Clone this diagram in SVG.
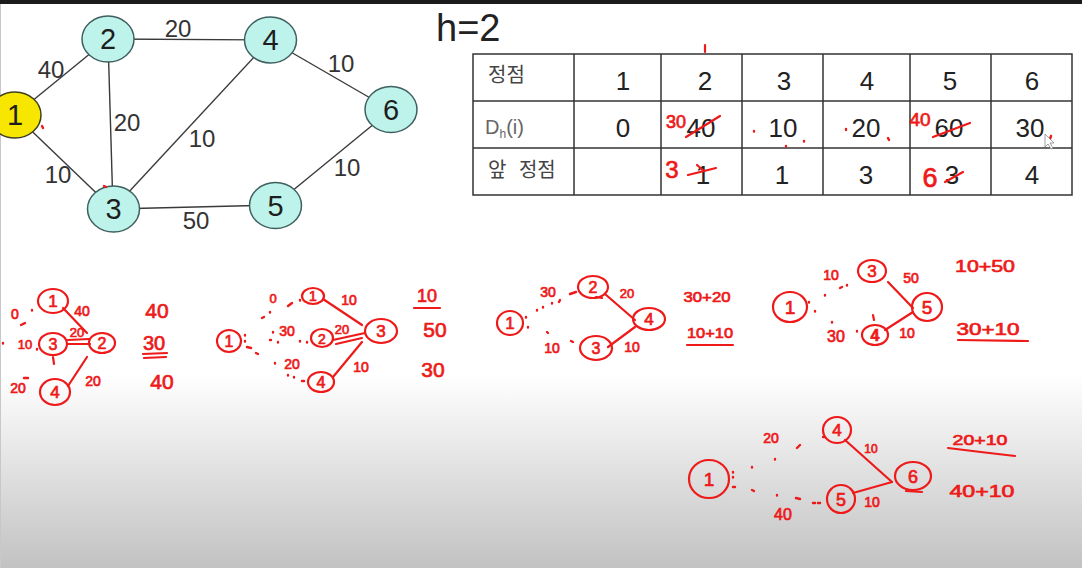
<svg xmlns="http://www.w3.org/2000/svg" width="1082" height="568" viewBox="0 0 1082 568">
<defs>
<linearGradient id="bg" x1="0" y1="0" x2="0" y2="1">
<stop offset="0" stop-color="#ffffff"/>
<stop offset="0.66" stop-color="#ffffff"/>
<stop offset="0.76" stop-color="#ededed"/>
<stop offset="1" stop-color="#c2c2c2"/>
</linearGradient>
<style>
.edge{stroke:#3a3a3a;stroke-width:1.4;fill:none}
.node{fill:#bdf3ea;stroke:#3f5f5f;stroke-width:1.5}
.start{fill:#f7e600;stroke:#3f3f20;stroke-width:1.5}
.nl{font-family:"Liberation Sans",Arial,sans-serif;font-size:29px;fill:#1e1e1e;text-anchor:middle}
.el{font-family:"Liberation Sans",Arial,sans-serif;font-size:24px;fill:#333;text-anchor:middle}
.grid{stroke:#333;stroke-width:1.5;fill:#fff}
.gl{stroke:#333;stroke-width:1.5}
.tc{font-family:"Liberation Sans",Arial,sans-serif;font-size:26px;fill:#222;text-anchor:middle}
.kr{font-family:"Noto Sans CJK KR","Liberation Sans",sans-serif;font-size:20px;fill:#444}
.red{stroke:#ee1a1a;stroke-width:2.2;fill:none;stroke-linecap:round}
.dot{stroke:#ee1a1a;stroke-width:2.4;fill:none;stroke-linecap:round}
.hw{font-family:"Liberation Sans",Arial,sans-serif;fill:#ee1a1a;stroke:#ee1a1a;stroke-width:0.7;text-anchor:middle}
</style>
</defs>
<rect x="0" y="0" width="1082" height="568" fill="url(#bg)"/>
<rect x="0" y="0" width="1082" height="4" fill="#1b1b1b"/>
<line x1="0.5" y1="4" x2="0.5" y2="568" stroke="#c8c8c8" stroke-width="1"/>

<g id="connectors">
<line class="edge" x1="15" y1="115" x2="108" y2="39"/>
<line class="edge" x1="15" y1="115" x2="113" y2="209"/>
<line class="edge" x1="108" y1="39" x2="113" y2="209"/>
<line class="edge" x1="108" y1="39" x2="270" y2="40"/>
<line class="edge" x1="113" y1="209" x2="270" y2="40"/>
<line class="edge" x1="270" y1="40" x2="391" y2="110"/>
<line class="edge" x1="113" y1="209" x2="275" y2="205"/>
<line class="edge" x1="275" y1="205" x2="391" y2="110"/>
<text class="el" x="51" y="78">40</text>
<text class="el" x="178" y="37">20</text>
<text class="el" x="341" y="72">10</text>
<text class="el" x="127" y="131">20</text>
<text class="el" x="202" y="147">10</text>
<text class="el" x="58" y="183">10</text>
<text class="el" x="196" y="229">50</text>
<text class="el" x="347" y="176">10</text>
</g>

<g id="node1"><ellipse class="start" cx="15" cy="115" rx="26" ry="23"/><text class="nl" x="15" y="125">1</text></g>
<g id="node2"><ellipse class="node" cx="108" cy="39" rx="26" ry="23"/><text class="nl" x="108" y="49">2</text></g>
<g id="node3"><ellipse class="node" cx="113.5" cy="209" rx="26" ry="23"/><text class="nl" x="113.5" y="219">3</text></g>
<g id="node4"><ellipse class="node" cx="270.5" cy="40" rx="26" ry="23"/><text class="nl" x="270.5" y="50">4</text></g>
<g id="node5"><ellipse class="node" cx="275.5" cy="205.5" rx="26" ry="23"/><text class="nl" x="275.5" y="215.5">5</text></g>
<g id="node6"><ellipse class="node" cx="391" cy="109.5" rx="26" ry="23"/><text class="nl" x="391" y="119.5">6</text></g>
<g id="graph-marks">
<path class="dot" d="M42 126 l1 2"/>
<path class="dot" d="M104 186 l2 1"/>
</g>

<g id="title"><text x="436" y="41" font-family="Liberation Sans,Arial,sans-serif" font-size="38" fill="#222">h=2</text></g>

<g id="table">
<rect class="grid" x="473" y="54" width="599" height="141"/>
<line class="gl" x1="473" y1="101" x2="1072" y2="101"/>
<line class="gl" x1="473" y1="148" x2="1072" y2="148"/>
<line class="gl" x1="574" y1="54" x2="574" y2="195"/>
<line class="gl" x1="661" y1="54" x2="661" y2="195"/>
<line class="gl" x1="742" y1="54" x2="742" y2="195"/>
<line class="gl" x1="823" y1="54" x2="823" y2="195"/>
<line class="gl" x1="910" y1="54" x2="910" y2="195"/>
<line class="gl" x1="991" y1="54" x2="991" y2="195"/>
<text class="kr" x="488" y="82">정점</text>
<text class="kr" x="488" y="177" word-spacing="8">앞 정점</text>
<text x="485" y="134" font-family="Liberation Sans,Arial,sans-serif" font-size="20" fill="#666">D<tspan font-size="12" dy="4">h</tspan><tspan dy="-4">(i)</tspan></text>
<text class="tc" x="623" y="90">1</text>
<text class="tc" x="705" y="90">2</text>
<text class="tc" x="784" y="90">3</text>
<text class="tc" x="867" y="90">4</text>
<text class="tc" x="950" y="90">5</text>
<text class="tc" x="1032" y="90">6</text>
<text class="tc" x="623" y="137">0</text>
<text class="tc" x="701" y="137">40</text>
<text class="tc" x="783" y="137">10</text>
<text class="tc" x="866" y="137">20</text>
<text class="tc" x="949" y="137">60</text>
<text class="tc" x="1030" y="137">30</text>
<text class="tc" x="703" y="184">1</text>
<text class="tc" x="782" y="184">1</text>
<text class="tc" x="866" y="184">3</text>
<text class="tc" x="952" y="184">3</text>
<text class="tc" x="1032" y="184">4</text>
</g>

<g id="table-marks">
<path class="red" d="M705 45 L705 52"/>
<text class="hw" x="676" y="128" font-size="18">30</text>
<path class="red" d="M686 137 L720 116"/>
<text class="hw" x="672" y="178" font-size="24">3</text>
<path class="red" d="M688 175 L716 168 M697 165 L704 171"/>
<text class="hw" x="920" y="126" font-size="19">40</text>
<path class="red" d="M933 137 L970 123"/>
<text class="hw" x="930" y="187" font-size="27">6</text>
<path class="red" d="M945 182 L963 172"/>
<path class="dot" d="M754 131 l0 0.5 M786 146 l0 0.5 M804 141 l0 0.5 M846 129 l0 1 M888 138 l1 2 M1051 136 l-1 3"/>
<path d="M1045 134 l0 13 l3 -3 l3 5 l2 -1 l-3 -5 l4 0 z" fill="#fff" stroke="#888" stroke-width="0.8"/>
</g>

<g id="sketch-h1-a">
<ellipse class="red" cx="53" cy="301" rx="15" ry="12"/><text class="hw" x="53" y="307" font-size="17">1</text>
<text class="hw" x="82" y="316" font-size="14">40</text>
<text class="hw" x="15" y="319" font-size="14">0</text>
<path class="dot" d="M32 310 l0 0.5 M21 325 l4 -2"/>
<path class="red" d="M63 308 L87 333"/>
<ellipse class="red" cx="53" cy="344" rx="14" ry="11"/><text class="hw" x="53" y="350" font-size="16">3</text>
<text class="hw" x="25" y="349" font-size="13">10</text>
<path class="dot" d="M37 349 l0 0.5 M3 343 l0 0.5"/>
<text class="hw" x="77" y="337" font-size="13">20</text>
<path class="red" d="M68 340 L89 339 M68 344 L90 344"/>
<ellipse class="red" cx="102" cy="343" rx="13" ry="10"/><text class="hw" x="102" y="349" font-size="16">2</text>
<path class="red" d="M53 357 L54 364"/>
<ellipse class="red" cx="55" cy="392" rx="15" ry="13"/><text class="hw" x="55" y="398" font-size="17">4</text>
<text class="hw" x="18" y="393" font-size="14">20</text>
<path class="dot" d="M24 378 l4 0"/>
<text class="hw" x="93" y="386" font-size="14">20</text>
<path class="red" d="M68 386 L87 357"/>
<text class="hw" x="157" y="318" font-size="21">40</text>
<text class="hw" x="154" y="350" font-size="20">30</text>
<path class="red" d="M143 354 L167 353 M144 358 L166 357"/>
<text class="hw" x="162" y="389" font-size="21">40</text>
</g>

<g id="sketch-h1-b">
<ellipse class="red" cx="229" cy="341" rx="12" ry="11"/><text class="hw" x="229" y="347" font-size="16">1</text>
<path class="dot" d="M245 335 l0 0.5 M245 341 l0 0.5 M247 347 l4 1 M256 353 l2 1 M262 318 l2 -1 M270 312 l0 0.5 M273 332 l0 0.5"/>
<ellipse class="red" cx="313" cy="296" rx="11" ry="8"/><text class="hw" x="313" y="301" font-size="14">1</text>
<text class="hw" x="273" y="303" font-size="13">0</text>
<path class="dot" d="M288 306 l4 -3 M300 300 l0 0.5"/>
<text class="hw" x="349" y="305" font-size="14">10</text>
<path class="red" d="M323 299 L362 325"/>
<ellipse class="red" cx="381" cy="331" rx="16" ry="12"/><text class="hw" x="381" y="337" font-size="17">3</text>
<text class="hw" x="287" y="336" font-size="14">30</text>
<path class="dot" d="M270 340 l1 0 M278 342 l0 0.5 M300 341 l0 0.5 M307 342 l0 0.5"/>
<ellipse class="red" cx="322" cy="338" rx="11" ry="9"/><text class="hw" x="322" y="344" font-size="14">2</text>
<text class="hw" x="342" y="334" font-size="13">20</text>
<path class="red" d="M333 340 L365 333 M336 344 L362 338"/>
<text class="hw" x="292" y="369" font-size="14">20</text>
<path class="dot" d="M275 363 l0 0.5 M288 375 l0 0.5 M294 377 l0 0.5 M302 381 l2 0"/>
<ellipse class="red" cx="321" cy="382" rx="13" ry="10"/><text class="hw" x="321" y="388" font-size="16">4</text>
<path class="red" d="M333 377 L362 342"/>
<text class="hw" x="361" y="372" font-size="14">10</text>
<text class="hw" x="427" y="302" font-size="18">10</text>
<path class="red" d="M414 308 L440 308"/>
<text class="hw" x="435" y="337" font-size="21">50</text>
<text class="hw" x="433" y="377" font-size="21">30</text>
</g>

<g id="sketch-h2-4">
<ellipse class="red" cx="510" cy="323" rx="13" ry="12"/><text class="hw" x="510" y="329" font-size="17">1</text>
<path class="dot" d="M526 317 l0 0.5 M528 327 l0 0.5 M537 310 l0 0.5 M543 307 l0 0.5 M552 303 l0 0.5 M560 300 l-1 2"/>
<text class="hw" x="548" y="297" font-size="14">30</text>
<path class="dot" d="M570 294 l6 -2"/>
<ellipse class="red" cx="593" cy="287" rx="15" ry="11"/><text class="hw" x="593" y="293" font-size="16">2</text>
<text class="hw" x="627" y="298" font-size="13">20</text>
<path class="red" d="M605 294 L635 320 M596 297 L602 298"/>
<ellipse class="red" cx="649" cy="319" rx="16" ry="11"/><text class="hw" x="649" y="325" font-size="17">4</text>
<path class="red" d="M635 327 L608 347"/>
<ellipse class="red" cx="596" cy="348" rx="16" ry="12"/><text class="hw" x="596" y="354" font-size="16">3</text>
<text class="hw" x="632" y="352" font-size="14">10</text>
<text class="hw" x="552" y="353" font-size="14">10</text>
<path class="dot" d="M547 332 l1 1 M571 341 l2 1"/>
<text class="hw" x="707" y="302" font-size="15" textLength="47" lengthAdjust="spacingAndGlyphs">30+20</text>
<text class="hw" x="710" y="338" font-size="15" textLength="46" lengthAdjust="spacingAndGlyphs">10+10</text>
<path class="red" d="M687 345 L733 345"/>
</g>

<g id="sketch-h2-5">
<ellipse class="red" cx="790" cy="307" rx="17" ry="15"/><text class="hw" x="790" y="314" font-size="19">1</text>
<path class="dot" d="M809 302 l0 0.5 M815 311 l0 0.5 M825 295 l0 0.5 M840 288 l2 -1 M847 285 l0 0.5"/>
<text class="hw" x="831" y="280" font-size="14">10</text>
<ellipse class="red" cx="872" cy="271" rx="14" ry="11"/><text class="hw" x="872" y="277" font-size="17">3</text>
<text class="hw" x="911" y="283" font-size="14">50</text>
<path class="red" d="M888 282 L913 308"/>
<ellipse class="red" cx="927" cy="307" rx="15" ry="14"/><text class="hw" x="927" y="314" font-size="19">5</text>
<path class="red" d="M913 312 L885 330"/>
<ellipse class="red" cx="875" cy="335" rx="13" ry="10"/><text class="hw" x="875" y="341" font-size="16" font-weight="bold">4</text>
<path class="red" d="M873 315 L874 320"/>
<text class="hw" x="907" y="338" font-size="14">10</text>
<text class="hw" x="836" y="342" font-size="16">30</text>
<path class="dot" d="M832 322 l0 0.5 M857 331 l0 0.5"/>
<text class="hw" x="985" y="272" font-size="17" textLength="60" lengthAdjust="spacingAndGlyphs">10+50</text>
<text class="hw" x="988" y="335" font-size="17" textLength="63" lengthAdjust="spacingAndGlyphs">30+10</text>
<path class="red" d="M958 340 L1028 341"/>
</g>

<g id="sketch-h2-6">
<ellipse class="red" cx="709" cy="479" rx="20" ry="19"/><text class="hw" x="709" y="486" font-size="19">1</text>
<path class="dot" d="M733 472 l0 0.5 M733 477 l0 0.5 M733 487 l2 0 M752 467 l0 0.5 M775 459 l0 0.5 M797 448 l3 -3 M752 490 l2 1 M777 495 l0 0.5 M796 498 l4 1 M813 503 l2 0 M818 503 l2 0"/>
<text class="hw" x="771" y="443" font-size="14">20</text>
<ellipse class="red" cx="837" cy="430" rx="14" ry="13"/><text class="hw" x="837" y="436" font-size="17">4</text>
<path class="dot" d="M823 437 l1 0"/>
<text class="hw" x="871" y="453" font-size="12">10</text>
<path class="red" d="M845 440 L892 482"/>
<ellipse class="red" cx="913" cy="476" rx="18" ry="14"/><text class="hw" x="913" y="483" font-size="18">6</text>
<path class="red" d="M906 491 L922 492"/>
<path class="red" d="M853 493 L892 482"/>
<ellipse class="red" cx="841" cy="499" rx="14" ry="14"/><text class="hw" x="841" y="506" font-size="18">5</text>
<text class="hw" x="872" y="507" font-size="14">10</text>
<text class="hw" x="783" y="520" font-size="16">40</text>
<text class="hw" x="980" y="445" font-size="15" textLength="55" lengthAdjust="spacingAndGlyphs">20+10</text>
<path class="red" d="M948 448 Q980 452 1015 456"/>
<text class="hw" x="982" y="497" font-size="17" textLength="65" lengthAdjust="spacingAndGlyphs">40+10</text>
</g>
</svg>
